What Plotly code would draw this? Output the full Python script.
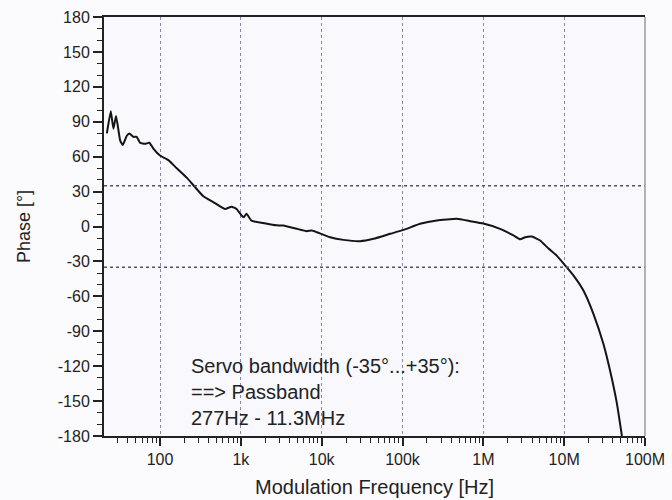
import plotly.graph_objects as go

freq_hz = [22, 24.6, 26.5, 28.6, 32.1, 34.6, 38.8, 41.8, 46.8, 51.5, 56.6, 65.3, 73.8, 82.7,
           100, 127, 161, 214, 270, 343, 455, 634, 767, 885, 1020, 1090, 1175, 1355, 1885,
           2760, 3360, 4920, 6540, 7540, 8700, 12700, 18600, 29900, 43700, 70300, 103000,
           165000, 266000, 470000, 687000, 1000000, 1610000, 2360000, 2850000, 3290000,
           3980000, 5050000, 6400000, 8100000, 10300000, 13000000, 17300000, 23000000,
           30600000, 37000000, 44900000, 51800000]
phase_deg = [80, 99, 84, 95, 74, 70, 78, 80, 77, 77, 72, 71, 72, 67,
             61, 57, 50, 42, 34, 26, 21, 15, 17, 15, 9.5, 8, 11, 5, 3,
             1, 0.9, -2, -4, -3.4, -4.9, -9.2, -11.5, -12.6, -10.6, -6.3, -2.9,
             2.3, 5.2, 6.6, 4.6, 2.5, -2, -7.7, -11, -9.2,
             -8.6, -12, -19, -25, -33.5, -42, -55, -75,
             -101, -124, -152, -180]

thresholds = [35, -35]
x_tickvals = [1e2, 1e3, 1e4, 1e5, 1e6, 1e7, 1e8]
x_ticktext = ["100", "1k", "10k", "100k", "1M", "10M", "100M"]
y_tickvals = [180, 150, 120, 90, 60, 30, 0, -30, -60, -90, -120, -150, -180]
y_ticktext = ["180", "150", "120", "90", "60", "30", "0", "-30", "-60", "-90", "-120", "-150", "-180"]
annotation_lines = ["Servo bandwidth (-35°...+35°):", "==> Passband", "277Hz - 11.3MHz"]

FONT = "Liberation Sans, Arial, sans-serif"

fig = go.Figure()
fig.add_trace(go.Scatter(x=freq_hz, y=phase_deg, mode="lines",
                         line=dict(color="#141414", width=2, shape="spline", smoothing=0.4),
                         showlegend=False, hoverinfo="skip"))

for t in thresholds:
    fig.add_hline(y=t, line=dict(color="#5b4d6e", width=1.5, dash="dot"))

fig.add_shape(type="line", xref="paper", yref="paper", x0=1, x1=1, y0=0, y1=1,
              line=dict(color="#9a9a9a", width=1.5))

fig.add_annotation(text="<br>".join(annotation_lines), xref="paper", yref="paper",
                   x=0.157, y=0.197, xanchor="left", yanchor="top", align="left",
                   showarrow=False, font=dict(family=FONT, size=20, color="#222222"))

fig.update_layout(
    width=672, height=500,
    margin=dict(l=104, r=27, t=17, b=64),
    paper_bgcolor="#fbfbfe", plot_bgcolor="#f8f8fd",
    font=dict(family=FONT, size=16, color="#222222"),
    xaxis=dict(type="log", range=[1.307, 8], automargin=False,
               tickvals=x_tickvals, ticktext=x_ticktext,
               ticks="outside", ticklen=8, tickwidth=1.5, tickcolor="#222222",
               showline=True, linecolor="#222222", linewidth=2, mirror=True,
               showgrid=True, gridcolor="#8c86a8", gridwidth=1, griddash="dot",
               zeroline=False,
               minor=dict(ticks="outside", ticklen=5, tickwidth=1.2, tickcolor="#222222",
                          dtick="D1", showgrid=False),
               title=dict(text="Modulation Frequency [Hz]", font=dict(size=20), standoff=13),
               tickfont=dict(size=16)),
    yaxis=dict(range=[-180, 180], tickvals=y_tickvals, ticktext=y_ticktext, automargin=False,
               ticks="outside", ticklen=9, tickwidth=1.5, tickcolor="#222222",
               showline=True, linecolor="#222222", linewidth=2,
               showgrid=False, zeroline=False,
               minor=dict(ticks="outside", ticklen=5, tickwidth=1.2, tickcolor="#222222",
                          dtick=10, showgrid=False),
               title=dict(text="Phase [°]", font=dict(size=18), standoff=22),
               tickfont=dict(size=16)),
)

fig.write_html("out.html")
